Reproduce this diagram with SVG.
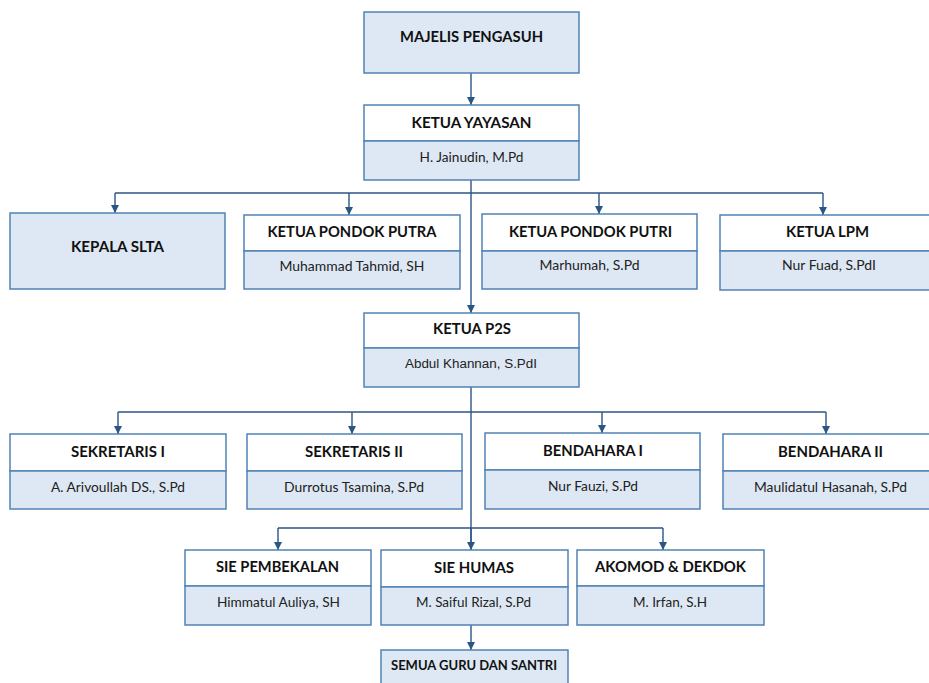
<svg xmlns="http://www.w3.org/2000/svg" width="929" height="683" viewBox="0 0 929 683">
<defs>
<marker id="ah" viewBox="0 0 8 8" refX="8" refY="4" markerWidth="8" markerHeight="8" markerUnits="userSpaceOnUse" orient="auto">
<path d="M0,0 L8,4 L0,8 Z" fill="#2b5585"/>
</marker>
<style>
.box{stroke:#5282b4;stroke-width:1.5}
.w{fill:#ffffff}
.l{fill:#dde8f4}
.c{fill:none;stroke:#2b5585;stroke-width:1.4}
.a{marker-end:url(#ah)}
.t{font-family:Lato,"Open Sans","Liberation Sans",sans-serif;font-weight:bold;font-size:15px;fill:#111;text-anchor:middle}
.n{font-family:Lato,"Open Sans","Liberation Sans",sans-serif;font-size:13.5px;fill:#222;text-anchor:middle}
.na{font-family:"Liberation Sans",Arial,sans-serif;font-size:12.5px;fill:#222;text-anchor:middle}
</style>
</defs>
<rect width="929" height="683" fill="#ffffff"/>
<g id="connectors">
<path class="c a" d="M471,73 V105"/>
<path class="c a" d="M471,180 V313"/>
<path class="c" d="M115,193 H823"/>
<path class="c a" d="M115,193 V213"/>
<path class="c a" d="M349,193 V215"/>
<path class="c a" d="M599,193 V214"/>
<path class="c a" d="M823,193 V215"/>
<path class="c" d="M471,387 V550"/>
<path class="c" d="M118,412 H826"/>
<path class="c a" d="M118,412 V434"/>
<path class="c a" d="M352,412 V434"/>
<path class="c a" d="M602,412 V433"/>
<path class="c a" d="M826,412 V434"/>
<path class="c" d="M278,528 H663"/>
<path class="c a" d="M278,528 V550"/>
<path class="c a" d="M471,528 V550"/>
<path class="c a" d="M663,528 V550"/>
<path class="c a" d="M471,625 V650"/>
</g>
<g id="majelis-pengasuh">
<rect class="box l" x="364" y="12" width="215" height="61"/>
<text class="t" x="471.5" y="42" textLength="143" lengthAdjust="spacingAndGlyphs">MAJELIS PENGASUH</text>
</g>
<g id="ketua-yayasan">
<rect class="box w" x="364" y="105" width="215" height="36"/>
<rect class="box l" x="364" y="141" width="215" height="39"/>
<text class="t" x="471.5" y="128" textLength="120" lengthAdjust="spacingAndGlyphs">KETUA YAYASAN</text>
<text class="n" x="471.5" y="162" textLength="104" lengthAdjust="spacingAndGlyphs">H. Jainudin, M.Pd</text>
</g>
<g id="kepala-slta">
<rect class="box l" x="10" y="213" width="215" height="76"/>
<text class="t" x="117.5" y="252" textLength="93" lengthAdjust="spacingAndGlyphs">KEPALA SLTA</text>
</g>
<g id="ketua-pondok-putra">
<rect class="box w" x="244" y="215" width="216" height="36"/>
<rect class="box l" x="244" y="251" width="216" height="38"/>
<text class="t" x="352" y="237" textLength="169" lengthAdjust="spacingAndGlyphs">KETUA PONDOK PUTRA</text>
<text class="n" x="352" y="271" textLength="145" lengthAdjust="spacingAndGlyphs">Muhammad Tahmid, SH</text>
</g>
<g id="ketua-pondok-putri">
<rect class="box w" x="482" y="214" width="215" height="37"/>
<rect class="box l" x="482" y="251" width="215" height="38"/>
<text class="t" x="590.5" y="237" textLength="163" lengthAdjust="spacingAndGlyphs">KETUA PONDOK PUTRI</text>
<text class="n" x="589.5" y="270" textLength="100" lengthAdjust="spacingAndGlyphs">Marhumah, S.Pd</text>
</g>
<g id="ketua-lpm">
<rect class="box w" x="720" y="215" width="220" height="36"/>
<rect class="box l" x="720" y="251" width="220" height="39"/>
<text class="t" x="827.5" y="237" textLength="83" lengthAdjust="spacingAndGlyphs">KETUA LPM</text>
<text class="n" x="829" y="270" textLength="94" lengthAdjust="spacingAndGlyphs">Nur Fuad, S.PdI</text>
</g>
<g id="ketua-p2s">
<rect class="box w" x="364" y="313" width="215" height="35"/>
<rect class="box l" x="364" y="348" width="215" height="39"/>
<text class="t" x="472" y="334" textLength="78" lengthAdjust="spacingAndGlyphs">KETUA P2S</text>
<text class="na" x="471" y="368" textLength="132" lengthAdjust="spacingAndGlyphs">Abdul Khannan, S.PdI</text>
</g>
<g id="sekretaris-1">
<rect class="box w" x="10" y="434" width="216" height="37"/>
<rect class="box l" x="10" y="471" width="216" height="38"/>
<text class="t" x="118" y="457" textLength="94" lengthAdjust="spacingAndGlyphs">SEKRETARIS I</text>
<text class="n" x="118" y="492" textLength="134" lengthAdjust="spacingAndGlyphs">A. Arivoullah DS., S.Pd</text>
</g>
<g id="sekretaris-2">
<rect class="box w" x="247" y="434" width="215" height="37"/>
<rect class="box l" x="247" y="471" width="215" height="38"/>
<text class="t" x="354" y="457" textLength="98" lengthAdjust="spacingAndGlyphs">SEKRETARIS II</text>
<text class="n" x="354" y="492" textLength="140" lengthAdjust="spacingAndGlyphs">Durrotus Tsamina, S.Pd</text>
</g>
<g id="bendahara-1">
<rect class="box w" x="485" y="433" width="215" height="37"/>
<rect class="box l" x="485" y="470" width="215" height="39"/>
<text class="t" x="593" y="456" textLength="100" lengthAdjust="spacingAndGlyphs">BENDAHARA I</text>
<text class="n" x="593" y="491" textLength="90" lengthAdjust="spacingAndGlyphs">Nur Fauzi, S.Pd</text>
</g>
<g id="bendahara-2">
<rect class="box w" x="723" y="434" width="220" height="37"/>
<rect class="box l" x="723" y="471" width="220" height="38"/>
<text class="t" x="830.5" y="457" textLength="105" lengthAdjust="spacingAndGlyphs">BENDAHARA II</text>
<text class="n" x="830.5" y="492" textLength="153" lengthAdjust="spacingAndGlyphs">Maulidatul Hasanah, S.Pd</text>
</g>
<g id="sie-pembekalan">
<rect class="box w" x="185" y="550" width="186" height="36"/>
<rect class="box l" x="185" y="586" width="186" height="39"/>
<text class="t" x="277.5" y="572" textLength="123" lengthAdjust="spacingAndGlyphs">SIE PEMBEKALAN</text>
<text class="n" x="278.5" y="607" textLength="123" lengthAdjust="spacingAndGlyphs">Himmatul Auliya, SH</text>
</g>
<g id="sie-humas">
<rect class="box w" x="381" y="550" width="187" height="37"/>
<rect class="box l" x="381" y="587" width="187" height="38"/>
<text class="t" x="474" y="573" textLength="80" lengthAdjust="spacingAndGlyphs">SIE HUMAS</text>
<text class="n" x="473.5" y="607" textLength="115" lengthAdjust="spacingAndGlyphs">M. Saiful Rizal, S.Pd</text>
</g>
<g id="akomod-dekdok">
<rect class="box w" x="577" y="550" width="187" height="36"/>
<rect class="box l" x="577" y="586" width="187" height="39"/>
<text class="t" x="670.5" y="572" textLength="151" lengthAdjust="spacingAndGlyphs">AKOMOD &amp; DEKDOK</text>
<text class="n" x="670" y="607" textLength="74" lengthAdjust="spacingAndGlyphs">M. Irfan, S.H</text>
</g>
<g id="semua-guru-dan-santri">
<rect class="box l" x="381" y="650" width="187" height="45"/>
<text class="t" x="474" y="670" style="font-size:14px" textLength="166" lengthAdjust="spacingAndGlyphs">SEMUA GURU DAN SANTRI</text>
</g>
</svg>
